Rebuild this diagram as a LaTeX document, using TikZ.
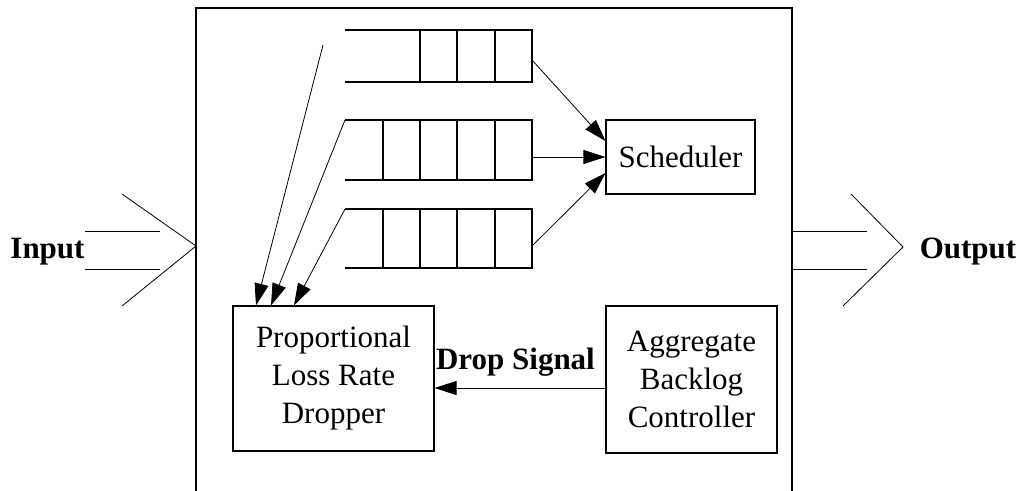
\documentclass[tikz,border=0pt]{standalone}
\usepackage{fontspec}
\setmainfont{Liberation Serif}
\usetikzlibrary{arrows.meta}
\begin{document}
\begin{tikzpicture}[x=1pt,y=-1pt,
  txt/.style={font=\fontsize{31}{38}\selectfont, align=center, inner sep=0pt},
  blk/.style={draw, line width=1.1pt, txt},
  arr/.style={line width=0.8pt, -{Triangle[length=22pt,width=14pt]}},
  thin/.style={line width=0.8pt},
  qline/.style={line width=1.1pt},
  lbl/.style={font=\fontsize{31}{38}\selectfont\bfseries, inner sep=0pt, anchor=base}]
\useasboundingbox (0,0) rectangle (1020,490);

% router enclosure
\draw[line width=1.2pt] (196,492) -- (196,8) -- (792,8) -- (792,492);

% blocks
\node[blk, minimum width=149pt, minimum height=74pt] (sched) at (680.5,157) {Scheduler};
\node[blk, minimum width=201pt, minimum height=145pt] (drop) at (333.5,378.5) {Proportional\\Loss Rate\\Dropper};
\node[blk, minimum width=171pt, minimum height=147pt] (aggr) at (691.5,379.5) {Aggregate\\Backlog\\Controller};

% queues: top edge, bottom edge, first divider
\foreach \q/\t/\b/\d in {qa/30/82/420, qb/120/180/383, qc/209/268/383} {
  \draw[qline] (345,\t) -- (532,\t) -- (532,\b) -- (345,\b);
  \foreach \x in {\d,420,457,495} \draw[qline] (\x,\t) -- (\x,\b);
  \coordinate (\q-nw) at (345,\t);
}
\coordinate (qa-out) at (532,60);
\coordinate (qb-out) at (532,157);
\coordinate (qc-out) at (532,246);

% queues to scheduler
\draw[arr] (qa-out) -- (sched.north west |- 0,141);
\draw[arr] (qb-out) -- (sched.west |- 0,157);
\draw[arr] (qc-out) -- (sched.west |- 0,173);

% packets to dropper
\coordinate (feed) at (323,45);
\draw[arr] (feed) -- (drop.north west -| 256,0);
\draw[arr] (qb-nw) -- (drop.north west -| 271,0);
\draw[arr] (qc-nw) -- (drop.north west -| 294,0);

% drop signal
\coordinate (ds) at (0,388);
\draw[arr] (aggr.west |- ds) -- (drop.east |- ds);
\node[lbl] (dslbl) at (515.5,369) {Drop Signal};

% input
\coordinate (in-tip) at (196,246);
\draw[thin] (122,194) -- (in-tip) -- (122,306);
\draw[thin] (85,231) -- (160,231);
\draw[thin] (85,269) -- (160,269);
\node[lbl] (input) at (47.5,258) {Input};

% output
\coordinate (out-tip) at (903,247);
\draw[thin] (851,194) -- (out-tip) -- (843,306);
\draw[thin] (792,231) -- (867,231);
\draw[thin] (792,269) -- (867,269);
\node[lbl] (output) at (968,258) {Output};
\end{tikzpicture}
\end{document}
